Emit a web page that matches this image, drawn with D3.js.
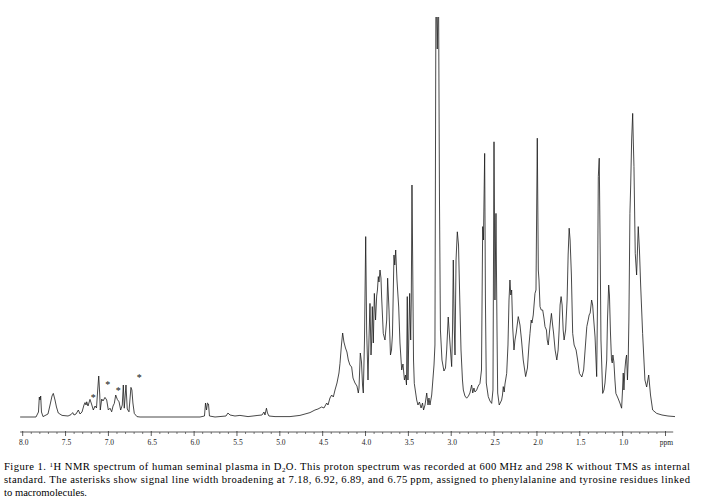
<!DOCTYPE html>
<html><head><meta charset="utf-8">
<script src="https://cdn.jsdelivr.net/npm/d3@7"></script>
<style>body{margin:0;background:#fff} svg{display:block}</style>
</head><body>
<svg id="c" width="704" height="499"></svg>
<script>
// chemical shift (ppm) and relative intensity (0-100, values >100 are clipped)
const ppm = [8.03,7.845,7.816,7.806,7.798,7.790,7.781,7.763,7.705,7.681,7.658,7.643,7.623,7.606,7.585,7.541,7.471,7.436,7.417,7.401,7.378,7.351,7.331,7.308,7.285,7.273,7.261,7.253,7.238,7.215,7.197,7.176,7.156,7.139,7.125,7.113,7.101,7.095,7.078,7.063,7.040,7.020,7.001,6.981,6.962,6.946,6.931,6.915,6.896,6.876,6.857,6.838,6.826,6.815,6.795,6.780,6.760,6.749,6.737,6.726,6.714,6.698,6.667,6.631,
5.931,5.879,5.867,5.855,5.844,5.832,5.821,5.756,5.628,5.605,5.581,5.523,5.465,5.371,5.255,5.208,5.185,5.173,5.156,5.144,5.127,5.056,4.881,4.765,4.706,4.648,4.590,4.555,4.512,4.485,4.453,4.438,4.415,4.395,4.376,4.356,4.333,4.310,4.298,4.281,4.267,4.252,4.234,4.217,4.201,4.182,4.162,4.146,4.123,4.100,4.084,4.076,4.061,4.047,4.035,4.026,4.012,3.998,3.987,3.971,3.960,3.948,3.936,3.928,3.921,3.909,3.897,3.883,3.870,3.861,3.851,3.843,3.831,3.820,3.812,3.793,3.773,3.753,3.742,3.726,3.709,3.697,3.686,3.668,3.659,3.648,3.633,3.613,3.598,3.578,3.563,3.546,3.534,3.522,3.513,3.505,3.493,3.485,3.473,3.466,3.458,3.450,3.440,3.431,3.403,3.388,3.371,3.352,3.335,3.323,3.306,3.286,3.271,3.260,3.248,3.228,3.217,3.201,3.190,3.178,3.163,3.149,3.137,3.126,3.108,3.085,3.067,3.053,3.035,3.021,3.009,2.995,2.985,2.976,2.964,2.956,2.944,2.929,2.915,2.903,2.886,2.869,2.859,2.840,2.820,2.799,2.782,2.762,2.749,2.735,2.723,2.703,2.685,2.665,2.647,2.633,2.624,2.610,2.601,2.591,2.568,2.548,2.528,2.513,2.501,2.490,2.478,2.466,2.458,2.440,2.412,2.402,2.393,2.382,2.373,2.353,2.338,2.326,2.315,2.305,2.295,2.283,2.268,2.256,2.242,2.218,2.198,2.180,2.160,2.132,2.111,2.093,2.081,2.067,2.058,2.043,2.023,2.011,1.996,1.984,1.976,1.964,1.950,1.933,1.918,1.906,1.889,1.880,1.868,1.857,1.846,1.831,1.817,1.806,1.788,1.768,1.753,1.741,1.730,1.718,1.706,1.694,1.683,1.665,1.648,1.636,1.624,1.613,1.598,1.583,1.566,1.543,1.525,1.504,1.476,1.455,1.438,1.418,1.402,1.391,1.379,1.362,1.350,1.340,1.322,1.303,1.293,1.284,1.273,1.261,1.253,1.233,1.218,1.206,1.186,1.177,1.163,1.154,1.142,1.130,1.121,1.114,1.102,1.090,1.079,1.055,1.032,1.012,1.003,0.993,0.985,0.974,0.964,0.954,0.944,0.935,0.927,0.915,0.906,0.895,0.883,0.876,0.868,0.853,0.837,0.827,0.818,0.804,0.790,0.767,0.740,0.720,0.696,0.675,0.650,0.603,0.541,0.471,0.389];
const intensity = [0,0,1.25,5,4.25,5.25,1.25,0.1,0.75,3,5.25,5.9,4.25,2.5,1,0.4,0.25,0.6,1.1,0.5,0.75,1.75,0.75,1.25,3,3.6,3,3.8,2.75,4.4,3.25,1.75,2.75,2.25,6.75,10.25,5.5,1.75,4.5,4,4.9,4.25,1.75,2.2,1.3,2.75,3.4,5.5,4.4,3.8,1.75,3,8,2.2,8,2,1.3,4.25,7.4,6.75,3.5,0.9,0.1,0,
0,0.25,3.5,1.75,3.5,3.25,0.25,0,0.25,1,0.5,0.25,0.4,0.1,0.4,0.5,1.25,0.5,2.2,1,0.25,0.1,0.1,0.4,0.75,1.1,1.75,2,2.5,2.25,3.5,3,4.75,5.5,5,6.75,8.5,11,13.4,18,21,18.75,17.25,16.25,14.25,13,12.5,9.75,8.5,7.75,6,7.25,16,13.75,8,6,19.25,45.1,21.75,9.25,19.25,28.4,15.5,19.25,27.6,18.5,30.9,24.25,30.25,31.75,35.1,33.75,36.75,34.75,30,20.9,19.25,24.25,34.7,26.75,15.5,16.75,20.5,40.5,38,41.75,34.25,27.5,18.5,11.75,13.25,9.25,10.5,8,30.1,9.25,21.75,30.9,19.25,29.25,58,39.25,14.25,8.4,4.25,3,3.75,2.25,3.5,1.75,3,6,3,4.75,3,5.5,8.5,13,18,110,92,110,54,21.75,14.25,11.5,12.25,16.75,25,20.5,16.75,12.6,21.75,39.25,21.75,15.5,39.25,46.3,43,31.75,16.75,9.25,6.75,5.25,4.7,5.25,6,8,6,7.25,6.25,6.75,7.75,8.4,11.75,47.6,44.25,65.9,29.25,8.5,5.1,4,3.4,6.75,68.8,29.25,50.9,21.75,6,3,4.25,5.5,7.6,6.25,8.25,10.9,18,29.25,34.25,30.5,31.75,22.5,16.75,19.25,21,25.1,23,19.25,14.25,10.1,12.25,18,20.9,24.25,23.5,25.5,30.9,31.75,69.7,36.75,34.25,27.6,26.75,26.75,24.75,22.6,21.75,19.25,18,20.5,23,25.9,23,21,16.75,14.25,16.75,21.75,28,30.1,28,21.75,19.25,21.75,29.25,40.5,47.2,44.25,35.5,20.9,18,16.75,14.25,10.9,10,11.75,16.75,22.6,24.25,25.5,26,29.25,28,25,20,10.1,29.25,60.1,64.7,39.25,19.25,5.9,6.75,8.5,14.25,24.25,33,30.5,21,14.25,13.5,15.5,13.75,9.25,5.9,4.75,3.5,2.2,6,11,6.75,11.75,14.25,15.5,9.25,14.25,24.25,50.9,58,69.25,75.9,69.25,62.6,40.9,35.5,41.75,47.6,41.75,33,20.9,9.25,7.5,10.5,5.5,1.75,0.9,0.5,0.25,0.1];

const majorTicks = [8.0,7.5,7.0,6.5,6.0,5.5,5.0,4.5,4.0,3.5,3.0,2.5,2.0,1.5,1.0,0.5];
const tickLabels = ["8.0","7.5","7.0","6.5","6.0","5.5","5.0","4.5","4.0","3.5","3.0","2.5","2.0","1.5","1.0","ppm"];
const asteriskPpm = [7.176,7.008,6.884,6.640];
const asteriskHeight = [5.5,8.6,7.2,10.5];

const captionLine1 = [["Figure 1. ",""],["1","sup"],["H NMR spectrum of human seminal plasma in D",""],["2","sub"],["O. This proton spectrum was recorded at 600\u2009MHz and 298\u2009K without TMS as internal",""]];
const captionLine2 = [["standard. The asterisks show signal line width broadening at 7.18, 6.92, 6.89, and 6.75\u2009ppm, assigned to phenylalanine and tyrosine residues linked",""]];
const captionLine3 = [["to macromolecules.",""]];

const svg = d3.select("#c");
const x = d3.scaleLinear().domain([8.0, 0.5]).range([22.7, 665.5]);
const y = d3.scaleLinear().domain([0, 100]).range([417, 17]);

svg.append("clipPath").attr("id","clip").append("rect")
  .attr("x",0).attr("y",17).attr("width",704).attr("height",420);

const pts = ppm.map((p,i)=>[p,intensity[i]]);
const line = d3.line().x(d=>x(d[0])).y(d=>y(d[1]));
svg.append("path").attr("clip-path","url(#clip)")
  .attr("d", line(pts)).attr("fill","none")
  .attr("stroke","#1a1a1a").attr("stroke-width",0.8).attr("stroke-linejoin","miter");

// asterisks
svg.selectAll("text.ast").data(asteriskPpm).enter().append("text")
  .attr("class","ast")
  .attr("x",(d)=>x(d)).attr("y",(d,i)=>y(asteriskHeight[i])+5.5)
  .attr("text-anchor","middle")
  .attr("font-family","Liberation Serif").attr("font-size",10)
  .attr("fill","#111").text("*");

// axis
const axisY = 432;
const g = svg.append("g");
g.append("line").attr("x1",x(8.03)).attr("x2",x(0.41)).attr("y1",axisY).attr("y2",axisY)
  .attr("stroke","#333").attr("stroke-width",0.8);
const minor = d3.range(80,4,-1).map(v=>v/10).filter(v=>!majorTicks.some(m=>Math.abs(m-v)<1e-6));
g.selectAll("line.mn").data(minor).enter().append("line")
  .attr("x1",d=>x(d)).attr("x2",d=>x(d)).attr("y1",axisY).attr("y2",axisY+2)
  .attr("stroke","#444").attr("stroke-width",0.7);
g.selectAll("line.mj").data(majorTicks).enter().append("line")
  .attr("x1",d=>x(d)).attr("x2",d=>x(d)).attr("y1",axisY-1).attr("y2",axisY+4)
  .attr("stroke","#333").attr("stroke-width",0.8);
g.selectAll("text.tl").data(majorTicks).enter().append("text")
  .attr("x",d=>x(d)+1).attr("y",axisY+12.5).attr("text-anchor","middle")
  .attr("font-family","Liberation Serif").attr("font-size",7.5).attr("fill","#222")
  .text((d,i)=>tickLabels[i]);

// caption
function caption(segs, yy, justify){
  const t = svg.append("text").attr("x",4).attr("y",yy)
    .attr("font-family","Liberation Serif").attr("font-size",10.6).attr("fill","#000");
  if (justify) t.attr("textLength",686).attr("lengthAdjust","spacing");
  let shift = 0;
  segs.forEach(s=>{
    const ts = t.append("tspan").text(s[0]);
    let target = 0;
    if (s[1]==="sup") { target = -3.5; ts.attr("font-size",7); }
    if (s[1]==="sub") { target = 1.5; ts.attr("font-size",7); }
    if (target !== shift) { ts.attr("dy", target - shift); shift = target; }
  });
}
caption(captionLine1, 470, true);
caption(captionLine2, 483, true);
caption(captionLine3, 496, false);
</script>
</body></html>
